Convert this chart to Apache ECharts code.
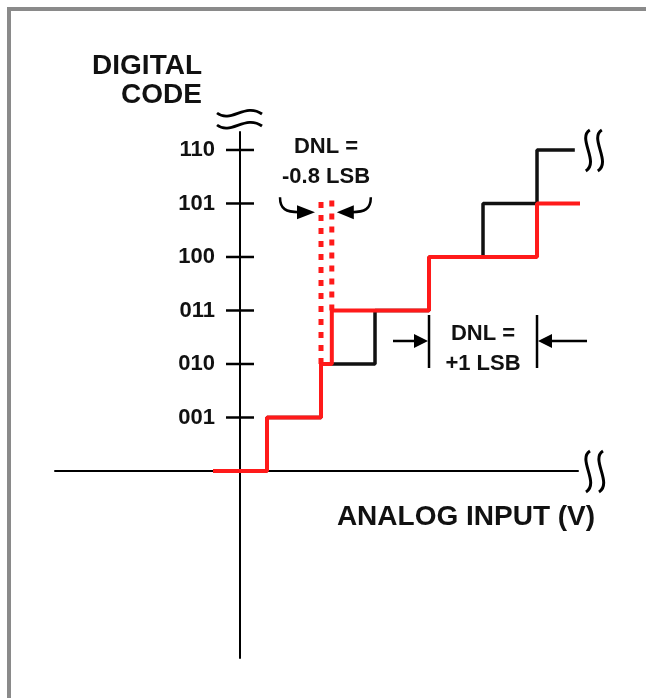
<!DOCTYPE html>
<html><head><meta charset="utf-8">
<script src="https://cdn.jsdelivr.net/npm/echarts/dist/echarts.min.js"></script>
<style>html,body{margin:0;padding:0;background:#fff}#c{width:646px;height:698px}</style>
</head><body><div id="c"></div>
<script>
// ---- data ----
const codeValues = [1, 2, 3, 4, 5, 6];
const codeLabels = ['001', '010', '011', '100', '101', '110'];
const idealX = [-0.5, 0.5, 1.5, 2.5, 3.5, 4.5, 5.5, 6.2];
const idealCode = [0, 1, 2, 3, 4, 5, 6, 6];
const actualX = [-0.5, 0.5, 1.5, 1.7, 3.5, 5.5, 6.4];
const actualCode = [0, 1, 2, 3, 4, 5, 5];
const dnlDashTop = 5.1;          // top of dotted DNL marker lines (code units)
const dnlWideEdges = [3.5, 5.5]; // edges of the +1 LSB DNL code width
const xRange = [-3.426, 6.259];
const yRange = [-3.495, 6.336];

const FONT = '"Liberation Sans", Arial, Helvetica, sans-serif';
const chart = echarts.init(document.getElementById('c'), null, {renderer: 'canvas'});

const ideal = idealX.map((x, i) => [x, idealCode[i]]);
const actual = actualX.map((x, i) => [x, actualCode[i]]);
const dashL = [[actualX[2], actualCode[2]], [actualX[2], dnlDashTop]];
const dashR = [[actualX[3], actualCode[3]], [actualX[3], dnlDashTop]];

chart.setOption({
  animation: false,
  backgroundColor: '#fff',
  grid: {left: 55, right: 68, top: 132, bottom: 40},
  xAxis: {
    type: 'value', min: xRange[0], max: xRange[1],
    axisLine: {show: true, onZero: true, lineStyle: {color: '#000', width: 2}},
    axisTick: {show: false}, axisLabel: {show: false}, splitLine: {show: false}
  },
  yAxis: {
    type: 'value', min: yRange[0], max: yRange[1],
    axisLine: {show: true, onZero: true, lineStyle: {color: '#000', width: 2}},
    axisTick: {show: false}, axisLabel: {show: false}, splitLine: {show: false}
  },
  series: [
    {type: 'line', data: ideal, step: 'end', symbol: 'none', clip: false,
     lineStyle: {color: '#111', width: 3.5}, z: 3},
    {type: 'line', data: dashL, symbol: 'none', clip: false,
     lineStyle: {color: '#ff1a1a', width: 5, type: [6, 7]}, z: 4},
    {type: 'line', data: dashR, symbol: 'none', clip: false,
     lineStyle: {color: '#ff1a1a', width: 5, type: [6, 7]}, z: 4},
    {type: 'line', data: actual, step: 'end', symbol: 'none', clip: false,
     lineStyle: {color: '#ff1a1a', width: 4}, z: 5},
    {type: 'scatter', data: codeValues.map(c => [0, c]), symbol: 'rect', symbolSize: [28, 2.5],
     itemStyle: {color: '#000', opacity: 1}, z: 6, silent: true,
     label: {show: true, position: 'left', distance: 11, color: '#111',
       fontFamily: FONT, fontWeight: 'bold', fontSize: 22,
       formatter: p => codeLabels[p.dataIndex]}}
  ]
});

const P = (x, y) => chart.convertToPixel({gridIndex: 0}, [x, y]);
const origin = P(0, 0);
const ax = origin[0], ay = origin[1];
const axTop = P(0, yRange[1])[1];
const axRight = P(xRange[1], 0)[0];
const idealEnd = P(idealX[idealX.length - 1], idealCode[idealCode.length - 1]);
const xl = P(actualX[2], 0)[0], xr = P(actualX[3], 0)[0];
const arrowY = P(0, dnlDashTop)[1] + 14;
const e1 = P(dnlWideEdges[0], 0)[0], e2 = P(dnlWideEdges[1], 0)[0];
const wideY = P(0, 2.43)[1];

const stroke = (w) => ({stroke: '#000', lineWidth: w, fill: null});
function sBreak(cx, cy) {
  return {type: 'bezierCurve', shape: {x1: cx + 2, y1: cy - 20, cpx1: cx - 11, cpy1: cy - 12,
    cpx2: cx + 12, cpy2: cy + 12, x2: cx - 2, y2: cy + 21}, style: stroke(3)};
}
function wave(x0, y0) {
  return {type: 'bezierCurve', shape: {x1: x0, y1: y0, cpx1: x0 + 14, cpy1: y0 + 11,
    cpx2: x0 + 28, cpy2: y0 - 11, x2: x0 + 45, y2: y0 + 1}, style: stroke(2.8)};
}
function txt(t, x, y, size, align) {
  return {type: 'text', x: x, y: y, style: {text: t, fill: '#111', align: align || 'center',
    verticalAlign: 'middle', font: 'bold ' + size + 'px ' + FONT}};
}
const g = [
  {type: 'rect', shape: {x: 9, y: 9, width: 700, height: 720}, style: {fill: null, stroke: '#8a8a8a', lineWidth: 4}},
  txt('DIGITAL', 202, 66, 28, 'right'),
  txt('CODE', 202, 95, 28, 'right'),
  txt('ANALOG INPUT (V)', 466, 517, 28),
  txt('DNL =', xl + 5, 147, 22),
  txt('-0.8 LSB', xl + 5, 177, 22),
  txt('DNL =', (e1 + e2) / 2, 334, 22),
  txt('+1 LSB', (e1 + e2) / 2, 364, 22),
  // axis breaks
  wave(ax - 23, axTop - 19), wave(ax - 23, axTop - 7),
  sBreak(axRight + 10, ay), sBreak(axRight + 23, ay),
  sBreak(idealEnd[0] + 13, idealEnd[1]), sBreak(idealEnd[0] + 25, idealEnd[1]),
  // curved arrows for -0.8 LSB
  {type: 'bezierCurve', shape: {x1: xl - 41, y1: arrowY - 15, cpx1: xl - 41, cpy1: arrowY - 3,
    cpx2: xl - 35, cpy2: arrowY, x2: xl - 22, y2: arrowY}, style: stroke(2.5)},
  {type: 'polygon', shape: {points: [[xl - 24, arrowY - 7], [xl - 24, arrowY + 7], [xl - 6, arrowY]]}, style: {fill: '#000'}},
  {type: 'bezierCurve', shape: {x1: xr + 39, y1: arrowY - 15, cpx1: xr + 39, cpy1: arrowY - 3,
    cpx2: xr + 33, cpy2: arrowY, x2: xr + 20, y2: arrowY}, style: stroke(2.5)},
  {type: 'polygon', shape: {points: [[xr + 22, arrowY - 7], [xr + 22, arrowY + 7], [xr + 5, arrowY]]}, style: {fill: '#000'}},
  // +1 LSB markers
  {type: 'line', shape: {x1: e1, y1: wideY - 26, x2: e1, y2: wideY + 27}, style: stroke(2.5)},
  {type: 'line', shape: {x1: e2, y1: wideY - 26, x2: e2, y2: wideY + 27}, style: stroke(2.5)},
  {type: 'line', shape: {x1: e1 - 36, y1: wideY, x2: e1 - 12, y2: wideY}, style: stroke(2.5)},
  {type: 'polygon', shape: {points: [[e1 - 15, wideY - 7], [e1 - 15, wideY + 7], [e1 - 1, wideY]]}, style: {fill: '#000'}},
  {type: 'line', shape: {x1: e2 + 12, y1: wideY, x2: e2 + 50, y2: wideY}, style: stroke(2.5)},
  {type: 'polygon', shape: {points: [[e2 + 15, wideY - 7], [e2 + 15, wideY + 7], [e2 + 1, wideY]]}, style: {fill: '#000'}}
];
chart.setOption({graphic: g});
</script>
</body></html>
